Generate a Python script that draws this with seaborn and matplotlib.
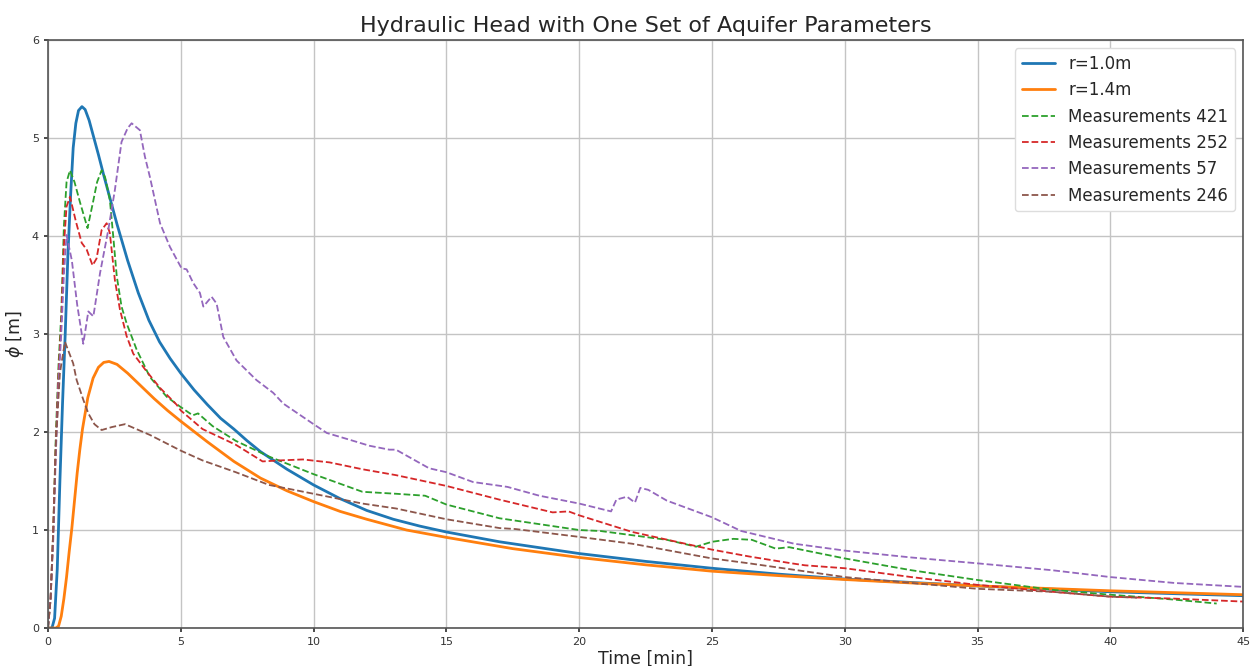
import matplotlib
matplotlib.use("Agg")
import matplotlib.pyplot as plt
import seaborn as sns

# model curves
t_r10 = [0, 0.15, 0.25, 0.35, 0.45, 0.55, 0.65, 0.75, 0.85, 0.95, 1.05, 1.15, 1.28, 1.4, 1.55,
         1.7, 1.9, 2.1, 2.3, 2.6, 3.0, 3.4, 3.8, 4.2, 4.6, 5.0, 5.5, 6.0, 6.5, 7.0, 7.5, 8.0,
         9.0, 10, 11, 12, 13, 14, 15, 17, 20, 22.5, 25, 27.5, 30, 32.5, 35, 37.5, 40, 42.5, 45]
h_r10 = [0, 0, 0.1, 0.6, 1.5, 2.3, 3.0, 3.8, 4.4, 4.9, 5.15, 5.28, 5.32, 5.29, 5.18,
         5.03, 4.83, 4.62, 4.42, 4.12, 3.75, 3.42, 3.14, 2.92, 2.75, 2.60, 2.43, 2.28, 2.14, 2.03, 1.91, 1.80,
         1.62, 1.46, 1.32, 1.20, 1.11, 1.04, 0.98, 0.88, 0.76, 0.68, 0.61, 0.55, 0.50, 0.465, 0.43, 0.40, 0.37, 0.35, 0.33]

t_r14 = [0, 0.3, 0.4, 0.5, 0.6, 0.7, 0.8, 0.9, 1.0, 1.1, 1.2, 1.3, 1.5, 1.7, 1.9, 2.1, 2.3, 2.6,
         3.0, 3.5, 4.0, 4.5, 5.0, 6.0, 7.0, 8.0, 9.0, 10, 11, 12, 13.5, 15, 17.5, 20, 22.5, 25,
         27.5, 30, 32.5, 35, 37.5, 40, 42.5, 45]
h_r14 = [0, 0, 0.02, 0.12, 0.3, 0.52, 0.78, 1.02, 1.3, 1.58, 1.82, 2.03, 2.35, 2.55, 2.66, 2.71, 2.72, 2.69,
         2.6, 2.47, 2.34, 2.22, 2.11, 1.9, 1.70, 1.53, 1.40, 1.29, 1.19, 1.11, 1.0, 0.925, 0.81, 0.72, 0.645, 0.58,
         0.535, 0.495, 0.46, 0.43, 0.405, 0.38, 0.36, 0.34]

# measurements
t_m421 = [0, 0.1, 0.2, 0.3, 0.4, 0.5, 0.6, 0.7, 0.83, 1.0, 1.2, 1.49, 1.7, 1.85, 2.02, 2.15, 2.33,
          2.46, 2.59, 2.77, 2.96, 3.34, 3.84, 4.47, 4.97, 5.45, 5.65, 6.2, 7.07, 8.32, 10, 11.84,
          13.1, 14.2, 15, 17, 20, 20.8, 23.3, 24.4, 25, 25.8, 26.5, 27.4, 27.9, 30, 32.5, 35,
          37.8, 40, 42.4, 44]
h_m421 = [0, 0.3, 1.0, 2.0, 2.7, 3.2, 4.1, 4.55, 4.67, 4.55, 4.35, 4.08, 4.35, 4.55, 4.67, 4.6, 4.37,
          3.99, 3.59, 3.28, 3.11, 2.84, 2.56, 2.36, 2.26, 2.17, 2.19, 2.06, 1.91, 1.75, 1.57, 1.39,
          1.37, 1.35, 1.26, 1.12, 1.0, 0.99, 0.90, 0.83, 0.88, 0.91, 0.90, 0.81, 0.825, 0.71, 0.59, 0.49,
          0.39, 0.34, 0.29, 0.25]

t_m252 = [0, 0.1, 0.2, 0.3, 0.4, 0.5, 0.6, 0.7, 0.83, 1.05, 1.27, 1.46, 1.68, 1.83, 2.02, 2.21, 2.33,
          2.52, 2.71, 2.96, 3.21, 3.71, 4.22, 4.84, 5.0, 5.82, 7.07, 8.08, 8.7, 9.6, 10.6, 11.84,
          13.1, 15, 17, 19, 19.6, 20, 22, 25, 26.4, 28, 28.5, 30, 32.5, 35, 37.8, 40, 42.4, 45]
h_m252 = [0, 0.3, 1.0, 1.9, 2.6, 3.1, 3.9, 4.3, 4.40, 4.15, 3.93, 3.86, 3.70, 3.77, 4.06, 4.13, 4.03,
          3.55, 3.25, 2.98, 2.80, 2.62, 2.45, 2.28, 2.22, 2.03, 1.87, 1.70, 1.71, 1.72, 1.69, 1.62,
          1.56, 1.45, 1.31, 1.18, 1.19, 1.15, 0.98, 0.80, 0.73, 0.66, 0.64, 0.61, 0.52, 0.44, 0.37, 0.32, 0.30, 0.27]

t_m57 = [0, 0.1, 0.2, 0.3, 0.4, 0.5, 0.6, 0.7, 0.9, 1.1, 1.33, 1.52, 1.71, 1.96, 2.27, 2.52, 2.77,
         3.0, 3.15, 3.46, 3.65, 3.84, 4.22, 4.59, 5.03, 5.22, 5.47, 5.72, 5.85, 6.16, 6.35, 6.6,
         7.1, 7.85, 8.48, 8.86, 10, 10.5, 11.37, 12.1, 12.85, 13.1, 14.35, 15, 16, 17.3, 18.5,
         20, 21.2, 21.4, 21.8, 22.1, 22.3, 22.6, 23.3, 25, 26.1, 28.1, 30, 32.5, 35, 37.8, 40,
         42.4, 45]
h_m57 = [0, 0.3, 0.9, 1.8, 2.5, 3.0, 3.6, 4.01, 3.75, 3.3, 2.90, 3.23, 3.18, 3.62, 4.06, 4.47, 4.96,
         5.1, 5.15, 5.08, 4.81, 4.6, 4.13, 3.89, 3.67, 3.66, 3.52, 3.42, 3.28, 3.38, 3.31, 2.97,
         2.73, 2.53, 2.40, 2.29, 2.08, 1.99, 1.92, 1.86, 1.82, 1.82, 1.63, 1.59, 1.49, 1.44, 1.35,
         1.27, 1.19, 1.31, 1.34, 1.28, 1.43, 1.41, 1.30, 1.13, 0.99, 0.86, 0.79, 0.72, 0.66, 0.59, 0.52,
         0.46, 0.42]

t_m246 = [0, 0.1, 0.2, 0.3, 0.45, 0.64, 0.95, 1.08, 1.33, 1.52, 1.75, 2.02, 2.4, 2.9, 3.84, 5.0,
          5.82, 7.07, 8.32, 10, 11.84, 13.1, 15, 17, 17.6, 20, 22, 25, 26.4, 30, 35, 37.8, 40, 41]
h_m246 = [0, 0.3, 1.0, 1.9, 2.6, 2.92, 2.70, 2.53, 2.33, 2.19, 2.08, 2.02, 2.05, 2.08, 1.97, 1.81,
          1.71, 1.59, 1.46, 1.37, 1.27, 1.22, 1.11, 1.02, 1.01, 0.93, 0.86, 0.71, 0.66, 0.52, 0.40, 0.37, 0.32, 0.31]

sns.set_theme(style="whitegrid", rc={
    "axes.edgecolor": "#555555",
    "axes.linewidth": 1.2,
    "grid.color": "#c4c4c4",
    "grid.linewidth": 1.0,
    "xtick.bottom": True,
    "ytick.left": True,
    "xtick.major.size": 3,
    "ytick.major.size": 3,
})
plt.rcParams["font.family"] = ["DejaVu Sans"]

fig = plt.figure(figsize=(12.52, 6.66), dpi=100)
ax = fig.add_axes([0.0383, 0.057, 0.9547, 0.883])

palette = sns.color_palette("tab10")
sns.lineplot(x=t_r10, y=h_r10, ax=ax, color=palette[0], lw=2, label="r=1.0m")
sns.lineplot(x=t_r14, y=h_r14, ax=ax, color=palette[1], lw=2, label="r=1.4m")
sns.lineplot(x=t_m421, y=h_m421, ax=ax, color=palette[2], lw=1.3, linestyle="--", label="Measurements 421")
sns.lineplot(x=t_m252, y=h_m252, ax=ax, color=palette[3], lw=1.3, linestyle="--", label="Measurements 252")
sns.lineplot(x=t_m57, y=h_m57, ax=ax, color=palette[4], lw=1.3, linestyle="--", label="Measurements 57")
sns.lineplot(x=t_m246, y=h_m246, ax=ax, color=palette[5], lw=1.3, linestyle="--", label="Measurements 246")

ax.set_xlim(0, 45)
ax.set_ylim(0, 6)
ax.tick_params(labelsize=8, colors="#333333")
ax.set_xlabel("Time [min]", fontsize=12.5, labelpad=2)
ax.set_ylabel(r"$\phi$ [m]", fontsize=12.5, labelpad=4)
ax.set_title("Hydraulic Head with One Set of Aquifer Parameters", fontsize=16, pad=6)
ax.legend(loc="upper right", fontsize=12, frameon=True, framealpha=1.0, edgecolor="#dddddd")

fig.savefig("out.png", dpi=100)
plt.close(fig)
